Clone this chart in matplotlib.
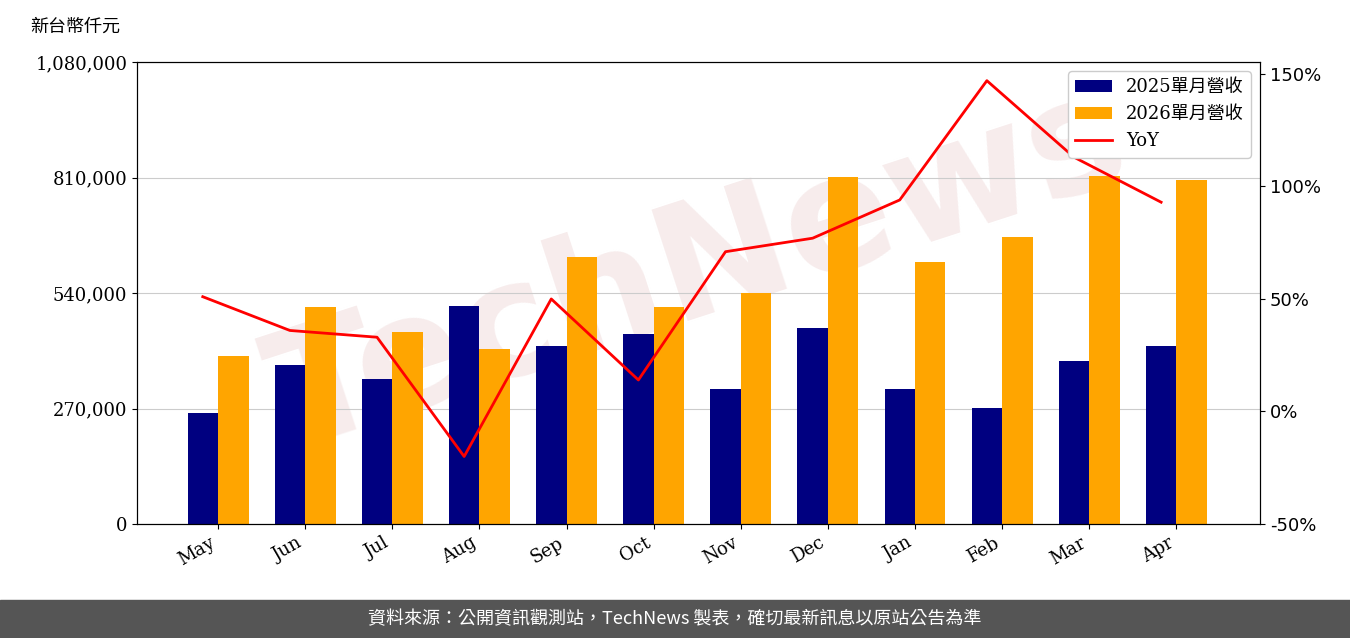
import numpy as np
import matplotlib.pyplot as plt

plt.rcParams['font.family'] = ['DejaVu Serif', 'Noto Sans CJK TC']

months = ["May", "Jun", "Jul", "Aug", "Sep", "Oct", "Nov", "Dec", "Jan", "Feb", "Mar", "Apr"]
rev_2025 = [259500, 371700, 339000, 509600, 416100, 444200, 315600, 458200, 315600, 271200, 381000, 416100]
rev_2026 = [392700, 507300, 448800, 409100, 624200, 507300, 540000, 811200, 612500, 670900, 813500, 804200]
yoy = [51, 36, 33, -20, 50, 14, 71, 77, 94, 147, 113, 93]

fig = plt.figure(figsize=(13.5, 6.38), dpi=100)
ax = fig.add_axes([137/1350, 1-524/638, (1260-137)/1350, (524-62)/638])
x = np.arange(len(months))
w = 0.35
ax.text(0.5, 0.55, "TechNews", transform=ax.transAxes, fontsize=115, rotation=18, ha="center",
        va="center", color="#e8c8c8", alpha=0.35, fontweight="bold", family="DejaVu Sans", zorder=1)
b1 = ax.bar(x - w/2, rev_2025, w, color="#000080", label="2025單月營收", zorder=2)
b2 = ax.bar(x + w/2, rev_2026, w, color="#FFA500", label="2026單月營收", zorder=2)
ax.set_ylim(0, 1080000)
ax.set_yticks(np.arange(0, 1080001, 270000))
ax.set_yticklabels([f"{v:,}" for v in np.arange(0, 1080001, 270000)], fontsize=13)
ax.yaxis.grid(True, color="#cccccc", zorder=0)
ax.set_xlim(-0.93, 11.96)
ax.set_xticks(x)
ax.set_xticklabels(months, rotation=30, ha="right", fontsize=13)
fig.text(30/1350, 1-27/638, "新台幣仟元", fontsize=13, va="center", family="Noto Sans CJK TC")

ax2 = ax.twinx()
l, = ax2.plot(x - w/2, yoy, color="red", lw=2, label="YoY", zorder=3)
ax2.set_ylim(-50, 155.3)
ax2.set_yticks([-50, 0, 50, 100, 150])
ax2.set_yticklabels([f"{v}%" for v in [-50, 0, 50, 100, 150]], fontsize=13, family="DejaVu Sans")

leg = ax2.legend([b1, b2, l], ["2025單月營收", "2026單月營收", "YoY"], loc="upper right",
                 prop={"family": ["DejaVu Serif", "Noto Sans CJK TC"], "size": 13}, framealpha=1)

fig.patches.append(plt.Rectangle((0, 0), 1, 38/638, transform=fig.transFigure, color="#555555"))
fig.text(0.5, 19/638, "資料來源：公開資訊觀測站，TechNews 製表，確切最新訊息以原站公告為準",
         ha="center", va="center", color="white", fontsize=13, family="Noto Sans CJK TC")

fig.savefig("out.png")
